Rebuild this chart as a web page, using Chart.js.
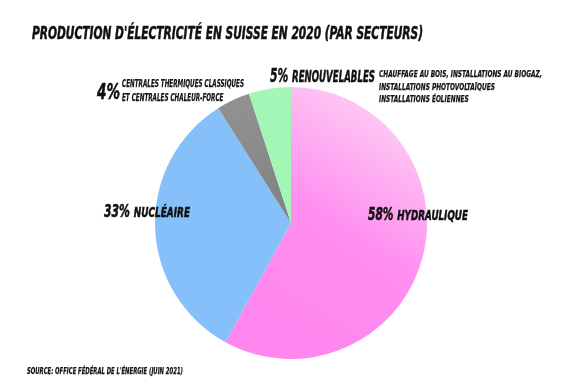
<!DOCTYPE html>
<html>
<head>
<meta charset="utf-8">
<script src="https://cdn.jsdelivr.net/npm/chart.js@4/dist/chart.umd.min.js"></script>
<style>
  html,body{margin:0;padding:0;background:#fff;}
  #wrap{position:relative;width:582px;height:388px;overflow:hidden;}
  #c{position:absolute;left:0;top:0;}
  .t{position:absolute;white-space:nowrap;color:#111;font-family:"Liberation Sans Narrow","DejaVu Sans Condensed","DejaVu Sans",sans-serif;font-weight:bold;font-style:italic;line-height:1;transform-origin:0 0;-webkit-text-stroke:0.5px #111;}
  .sm{-webkit-text-stroke:0.25px #111;}
</style>
</head>
<body>
<div id="wrap">
  <canvas id="c" width="582" height="388"></canvas>
  <div class="t" data-w="391" style="left:32px;top:25px;font-size:17px;">PRODUCTION D'ÉLECTRICITÉ EN SUISSE EN 2020 (PAR SECTEURS)</div>
  <div class="t" data-w="105" style="left:270px;top:65px;font-size:20px;">5% <span style="font-size:16px">RENOUVELABLES</span></div>
  <div class="t sm" data-w="163" style="left:379px;top:68px;font-size:9.5px;line-height:12.5px;">CHAUFFAGE AU BOIS, INSTALLATIONS AU BIOGAZ,<br>INSTALLATIONS PHOTOVOLTAÏQUES<br>INSTALLATIONS ÉOLIENNES</div>
  <div class="t" data-w="23" style="left:97px;top:82px;font-size:21px;">4%</div>
  <div class="t sm" data-w="122" style="left:122px;top:77px;font-size:10px;line-height:14px;">CENTRALES THERMIQUES CLASSIQUES<br>ET CENTRALES CHALEUR-FORCE</div>
  <div class="t" data-w="86" style="left:104px;top:203px;font-size:17px;">33% <span style="font-size:14px">NUCLÉAIRE</span></div>
  <div class="t" data-w="100" style="left:368px;top:206px;font-size:17px;">58% <span style="font-size:14px">HYDRAULIQUE</span></div>
  <div class="t sm" data-w="156" style="left:27px;top:366px;font-size:9.5px;">SOURCE: OFFICE FÉDÉRAL DE L'ÉNERGIE (JUIN 2021)</div>
</div>
<script>
// parts de production 2020, en %
const secteurs = ['Hydraulique', 'Nucléaire', 'Thermique classique', 'Renouvelables'];
const parts = [58, 33, 4, 5];

// condensed look: squeeze each label to the width it has in the original
document.querySelectorAll('.t[data-w]').forEach(el => {
  const w = el.getBoundingClientRect().width;
  const s = parseFloat(el.dataset.w) / w;
  el.style.transform = `scaleX(${s})`;
});

function pinkFill(context){
  const chart = context.chart;
  const a = chart.chartArea;
  if(!a) return '#ff8ef0';
  const g = chart.ctx.createLinearGradient(a.right - 10, a.top + 20, a.left + 120, a.bottom - 30);
  g.addColorStop(0, '#fdd4f3');
  g.addColorStop(0.55, '#ff8ef0');
  g.addColorStop(1, '#ff86ee');
  return g;
}

function grayFill(context){
  const chart = context.chart;
  const a = chart.chartArea;
  if(!a) return '#8c8c8c';
  const g = chart.ctx.createLinearGradient(a.left + 80, a.top, a.left + 130, a.top + 120);
  g.addColorStop(0, '#939393');
  g.addColorStop(1, '#838383');
  return g;
}

const colors = [pinkFill, '#86c0fa', grayFill, '#a2f7b6'];

new Chart(document.getElementById('c'), {
  type: 'pie',
  data: {
    labels: secteurs,
    datasets: [{
      data: parts,
      backgroundColor: ctx => {
        const f = colors[ctx.dataIndex];
        return typeof f === 'function' ? f(ctx) : f;
      },
      borderWidth: 0
    }]
  },
  options: {
    responsive: false,
    animation: false,
    layout: { padding: { top: 87, bottom: 29, left: 155, right: 155 } },
    plugins: { legend: { display: false }, tooltip: { enabled: false } }
  }
});
</script>
</body>
</html>
